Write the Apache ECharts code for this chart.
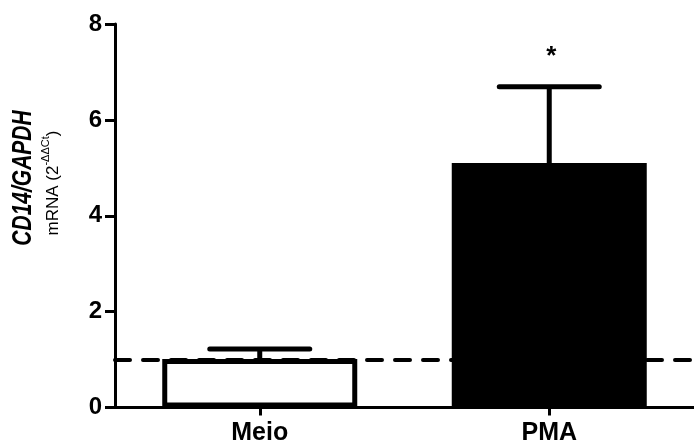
<!DOCTYPE html>
<html>
<head>
<meta charset="utf-8">
<style>
  html, body { margin: 0; padding: 0; background: #fff; }
  #chart { width: 694px; height: 448px; }
</style>
<script src="https://cdn.jsdelivr.net/npm/echarts@6/dist/echarts.min.js"></script>
</head>
<body>
<div id="chart"></div>
<script>
// Relative CD14/GAPDH mRNA expression per condition
const categories = ['Meio', 'PMA'];
const means = [1.01, 5.10];          // bar heights (2^-ΔΔCt)
const errorTops = [1.22, 6.69];      // upper end of each error bar
const significance = ['', '*'];
const barFills = ['#ffffff', '#000000'];
const referenceLevel = 1;            // dashed baseline
const yMin = 0, yMax = 8, yStep = 2;

const FONT = '"Liberation Sans", Arial, Helvetica, sans-serif';

const chart = echarts.init(document.getElementById('chart'), null, { renderer: 'canvas' });

const option = {
  animation: false,
  backgroundColor: '#ffffff',
  grid: { left: 115, right: 0, top: 24, bottom: 40.5, containLabel: false },
  xAxis: {
    type: 'category',
    data: categories,
    axisLine: { lineStyle: { color: '#000', width: 3 } },
    axisTick: { show: true, alignWithLabel: true, length: 8, lineStyle: { color: '#000', width: 3 } },
    axisLabel: { color: '#000', fontFamily: FONT, fontWeight: 'bold', fontSize: 25, margin: 13 },
    splitLine: { show: false }
  },
  yAxis: {
    type: 'value',
    min: yMin, max: yMax, interval: yStep,
    axisLine: { show: true, lineStyle: { color: '#000', width: 3 } },
    axisTick: { show: true, length: 10, lineStyle: { color: '#000', width: 3 } },
    axisLabel: { color: '#000', fontFamily: FONT, fontWeight: 'bold', fontSize: 24, margin: 13 },
    splitLine: { show: false }
  },
  series: [
    {
      type: 'bar',
      barWidth: 195,
      z: 2,
      data: means.map((v, i) => ({
        value: v,
        itemStyle: { color: barFills[i], borderColor: '#000', borderWidth: 5 }
      })),
      markLine: {
        silent: true,
        symbol: 'none',
        label: { show: false },
        z: 3,
        lineStyle: { color: '#000', width: 4, type: [15, 13], cap: 'round' },
        data: [{ yAxis: referenceLevel }]
      }
    },
    {
      type: 'custom',
      z: 4,
      data: categories.map((c, i) => [i, means[i], errorTops[i]]),
      renderItem: function (params, api) {
        const i = api.value(0);
        const base = api.coord([i, api.value(1)]);
        const top = api.coord([i, api.value(2)]);
        const half = 50;
        const lw = { stroke: '#000', lineWidth: 5, lineCap: 'round' };
        const children = [
          { type: 'line', shape: { x1: top[0], y1: base[1], x2: top[0], y2: top[1] }, style: { stroke: '#000', lineWidth: 5 } },
          { type: 'line', shape: { x1: top[0] - half, y1: top[1], x2: top[0] + half, y2: top[1] }, style: lw }
        ];
        const sig = significance[params.dataIndex];
        if (sig) {
          children.push({
            type: 'text',
            x: top[0] + 2,
            y: top[1] - 30,
            style: {
              text: sig, fill: '#000',
              font: 'bold 26px ' + FONT,
              textAlign: 'center', textVerticalAlign: 'middle'
            }
          });
        }
        return { type: 'group', children: children };
      }
    }
  ],
  graphic: [
    {
      type: 'text',
      x: 23, y: 178,
      rotation: Math.PI / 2,
      scaleY: 1.3,
      style: {
        text: 'CD14/GAPDH',
        fill: '#000',
        font: 'italic bold 21px ' + FONT,
        textAlign: 'center', textVerticalAlign: 'middle'
      }
    },
    {
      type: 'text',
      x: 51, y: 183,
      rotation: Math.PI / 2,
      style: {
        text: '{b|mRNA (2}{s|-ΔΔCt}{b|)}',
        textAlign: 'center', textVerticalAlign: 'middle',
        rich: {
          b: { fontFamily: FONT, fontSize: 17, fill: '#000', lineHeight: 22, verticalAlign: 'bottom' },
          s: { fontFamily: FONT, fontSize: 11, fill: '#000', lineHeight: 12, verticalAlign: 'top' }
        }
      }
    }
  ]
};

chart.setOption(option);
</script>
</body>
</html>
